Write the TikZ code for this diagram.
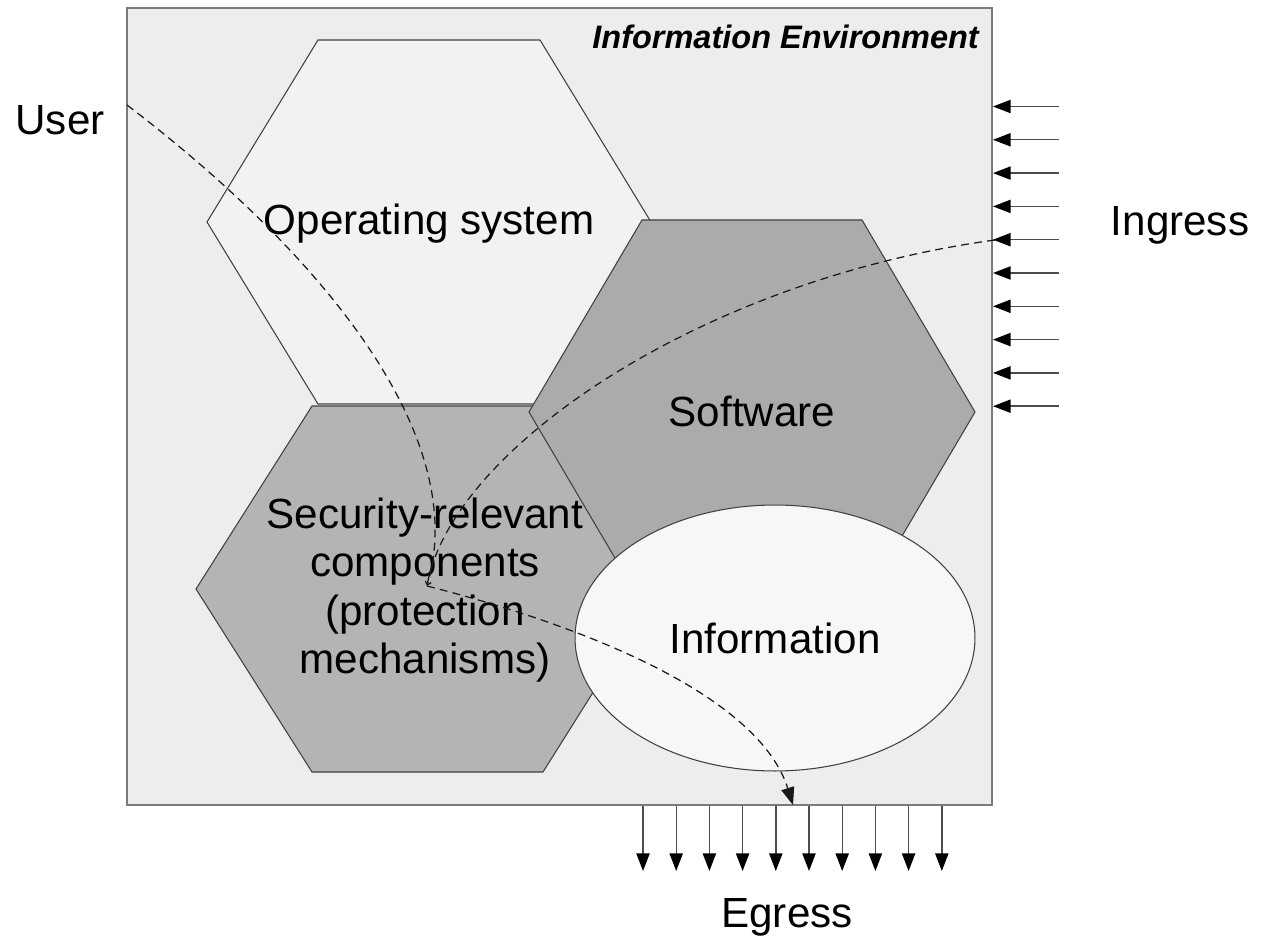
\documentclass[tikz,border=0pt]{standalone}
\usepackage{fontspec}
\setmainfont{Liberation Sans}
\usetikzlibrary{positioning,arrows.meta,calc,shapes.geometric}
\definecolor{envfill}{HTML}{EDEDED}
\definecolor{envline}{HTML}{7A7A7A}
\definecolor{osfill}{HTML}{F2F2F2}
\definecolor{secfill}{HTML}{B4B4B4}
\definecolor{swfill}{HTML}{ABABAB}
\definecolor{infofill}{HTML}{F7F7F7}
\definecolor{ink}{HTML}{000000}
\definecolor{edge}{HTML}{404040}
\newcommand{\lbl}{\fontsize{24pt}{27.5pt}\selectfont}
\tikzset{
  hexa/.style={draw=edge, line width=0.6pt},
  flow/.style={line width=0.7pt, dash pattern=on 4.5pt off 3pt, color=ink!90},
  io/.style={-{Triangle[length=10pt,width=7.5pt,color=ink]}, line width=0.8pt, color=ink!70},
  lab/.style={font=\lbl, text=ink, align=center},
}
\begin{document}
\begin{tikzpicture}[x=0.02cm, y=-0.02cm]
    \useasboundingbox (0,0) rectangle (1264,942);
    % environment
    \draw[draw=envline, line width=0.9pt, fill=envfill] (127,8) rectangle (992,805);
    \node[font=\bfseries\itshape\fontsize{18.5pt}{22pt}\selectfont, anchor=east] (envtitle) at (985,37) {Information Environment};
    % hexagons
    \draw[hexa, fill=osfill] (207,222) -- (318,40) -- (540,40) -- (651,222) -- (540,404) -- (318,404) -- cycle;
    \draw[hexa, fill=secfill] (196,589) -- (312,406) -- (543,406) -- (658,589) -- (543,772) -- (312,772) -- cycle;
    \draw[hexa, fill=swfill] (529,412) -- (642,220) -- (862,220) -- (975,412) -- (862,604) -- (642,604) -- cycle;
    \node[lab] (os) at (429,224) {Operating system};
    \node[lab] (sw) at (752,411) {Software};
    \node[lab] (sec) at (425,590) {Security-relevant\\components\\(protection\\mechanisms)};
    \node[ellipse, draw=edge, line width=0.6pt, fill=infofill, minimum width=8cm, minimum height=5.32cm,
      inner sep=0pt, font=\lbl] (info) at (775,638) {Information};
    % ingress / egress
    \foreach \i in {0,...,9} {
      \coordinate (ina\i) at (1059,{106.5+33.3*\i});
      \coordinate (inb\i) at (993,{106.5+33.3*\i});
      \draw[io] (ina\i) -- (inb\i);
      \coordinate (outa\i) at ({643+33.2*\i},806);
      \coordinate (outb\i) at ({643+33.2*\i},871);
      \draw[io] (outa\i) -- (outb\i);
    }
    \node[lab] (user) at (60,120) {User};
    \node[lab] (ingress) at (1180,225) {Ingress};
    \node[lab] (egress) at (787,917) {Egress};
    % flows
    \coordinate (userin) at (127,105);
    \coordinate (ingin) at (995,240);
    \coordinate (hub) at (427,586);
    \coordinate (egout) at (793,805);
    \draw[flow, -{Straight Barb[length=2pt,width=3.5pt]}] (userin) .. controls (330,260) and (470,440) .. (hub);
    \draw[flow] (ingin) .. controls (700,280) and (450,450) .. (hub);
    \draw[flow, -{Triangle[length=10pt,width=7.5pt]}] (hub) .. controls (600,630) and (760,700) .. (egout);
  \end{tikzpicture}
\end{document}
